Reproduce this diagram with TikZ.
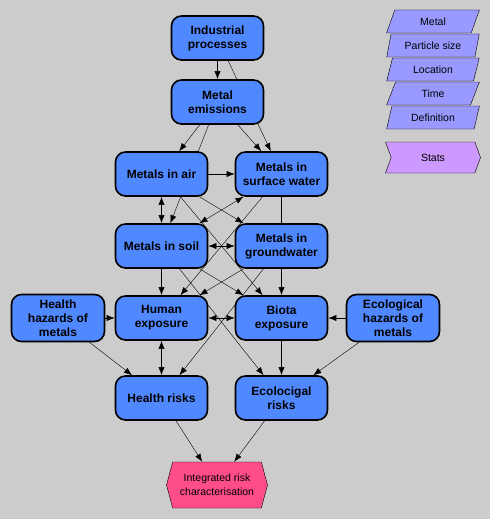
\documentclass[tikz,border=0pt]{standalone}
\usepackage{fontspec}
\setmainfont{Liberation Sans}
\usepackage{xcolor}
\definecolor{paper}{RGB}{204,204,204}
\definecolor{nodeblue}{RGB}{80,136,255}
\definecolor{legendblue}{RGB}{153,153,255}
\definecolor{statsviolet}{RGB}{204,153,255}
\definecolor{riskpink}{RGB}{255,77,140}
\usepackage{tikz}
\usetikzlibrary{arrows.meta,backgrounds,shapes.geometric,shapes.symbols}
\tikzstyle{factor} = [rectangle, rounded corners=10pt, draw, line width=1.6pt,
  fill=nodeblue, minimum width=92pt, minimum height=44pt, inner sep=2pt,
  align=center, font=\fontsize{12}{14}\selectfont\bfseries]
\tikzstyle{hazard} = [factor, minimum width=93pt, minimum height=47pt]
\tikzstyle{index} = [trapezium, trapezium left angle=73, trapezium right angle=107,
  trapezium stretches=true, draw, fill=legendblue, minimum width=93pt,
  minimum height=23pt, inner sep=1pt, font=\fontsize{10.5}{12}\selectfont]
\tikzstyle{stats} = [signal, signal to=east, signal from=west,
  signal pointer angle=140, draw, fill=statsviolet, minimum width=95pt,
  minimum height=31pt, inner sep=1pt, font=\fontsize{10.5}{12}\selectfont]
\tikzstyle{objective} = [signal, signal to=east and west,
  signal pointer angle=150, draw, fill=riskpink, minimum width=101pt,
  minimum height=46pt, inner sep=1pt, align=center,
  font=\fontsize{10.5}{14}\selectfont]

\begin{document}
\begin{tikzpicture}[x=1pt, y=-1pt, >={Latex[length=8pt,width=6pt]}]
  \useasboundingbox (0,0) rectangle (490,519);
  \begin{scope}[on background layer]
    \fill[paper] (0,0) rectangle (490,519);
  \end{scope}

  \node[factor] (ind) at (217.5, 38) {Industrial\\processes};
  \node[factor] (emis) at (217.5, 102) {Metal\\emissions};
  \node[factor] (air) at (161.5, 174) {Metals in air};
  \node[factor] (sw) at (281.5, 174) {Metals in\\surface water};
  \node[factor] (soil) at (161.5, 246) {Metals in soil};
  \node[factor] (gw) at (281.5, 246) {Metals in\\groundwater};
  \node[factor] (human) at (161.5, 318) {Human\\exposure};
  \node[factor] (biota) at (281.5, 318) {Biota\\exposure};
  \node[hazard] (hhaz) at (58, 318) {Health\\hazards of\\metals};
  \node[hazard] (ehaz) at (393, 318) {Ecological\\hazards of\\metals};
  \node[factor] (hrisk) at (161.5, 398) {Health risks};
  \node[factor] (erisk) at (281.5, 398) {Ecolocigal\\risks};
  \node[objective] (integ) at (217, 485) {Integrated risk\\characterisation};

  \node[index] (metal) at (433, 21.5) {Metal};
  \node[index] (size) at (433, 45.5) {Particle size};
  \node[index] (loc) at (433, 69.5) {Location};
  \node[index] (time) at (433, 93.5) {Time};
  \node[index] (defn) at (433, 117.5) {Definition};
  \node[stats] (stats) at (433, 157.5) {Stats};

  \begin{scope}[on background layer, line width=0.6pt]
    \path[draw,->] (ind) -- (emis);
    \path[draw,->] (ind) -- (sw);
    \path[draw,->] (emis) -- (air);
    \path[draw,->] (emis) -- (soil);
    \path[draw,->] (emis) -- (sw);
    \path[draw,->] (air) -- (sw);
    \path[draw,<->] (air) -- (soil);
    \path[draw,->] (air) -- (gw);
    \path[draw,->] (air) -- (biota);
    \path[draw,<->] (sw) -- (soil);
    \path[draw,->] (sw) -- (human);
    \path[draw,->] (sw) -- (biota);
    \path[draw,<->] (soil) -- (gw);
    \path[draw,->] (soil) -- (human);
    \path[draw,->] (soil) -- (biota);
    \path[draw,->] (soil) -- (erisk);
    \path[draw,->] (gw) -- (human);
    \path[draw,->] (gw) -- (hrisk);
    \path[draw,->] (hhaz) -- (human);
    \path[draw,->] (hhaz) -- (hrisk);
    \path[draw,->] (ehaz) -- (biota);
    \path[draw,->] (ehaz) -- (erisk);
    \path[draw,<->] (human) -- (biota);
    \path[draw,<->] (human) -- (hrisk);
    \path[draw,->] (biota) -- (erisk);
    \path[draw,->] (hrisk) -- (integ);
    \path[draw,->] (erisk) -- (integ);
  \end{scope}
\end{tikzpicture}
\end{document}
